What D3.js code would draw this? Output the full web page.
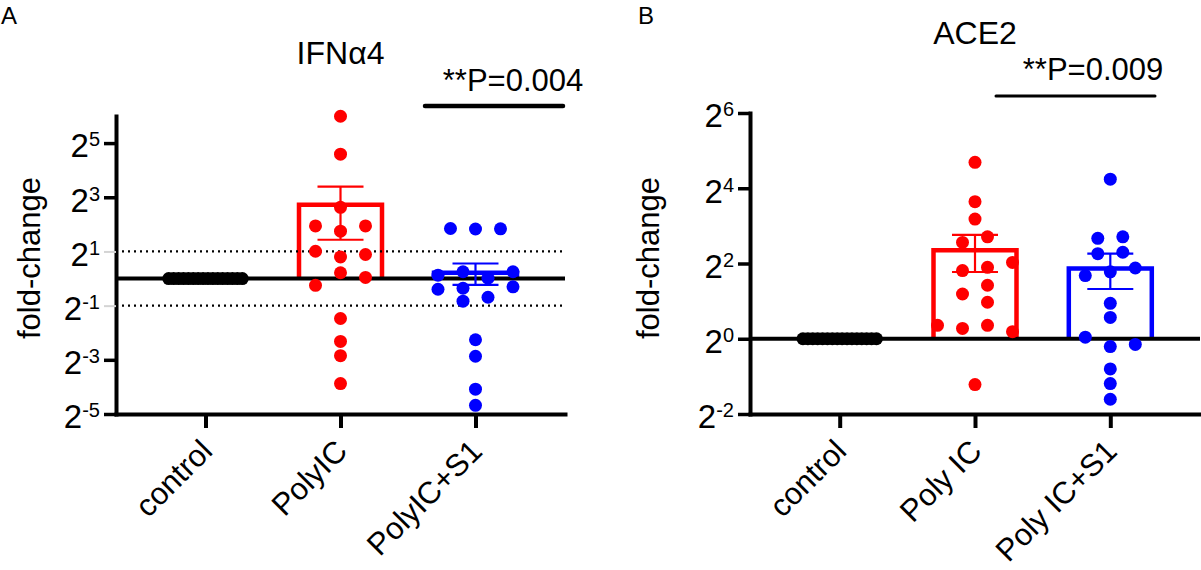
<!DOCTYPE html>
<html lang="en">
<head>
<meta charset="UTF-8">
<title>IFNa4 / ACE2 fold-change</title>
<style>
    body{ margin:0; background:#fff; }
    svg text{ font-family:"Liberation Sans", Arial, Helvetica, sans-serif; fill:#000; }
    .domain{ stroke:#000; stroke-width:4px; stroke-linecap:square; }
    .tick line{ stroke:#000; stroke-width:3.5px; }
</style>
<script src="https://d3js.org/d3.v7.min.js"></script>
</head>
<body>
<div class="canvas"></div>
<script>
// ---- panel A : IFNa4 ----
const catsA = ['control', 'PolyIC', 'PolyIC+S1'];
const ticksA = [2**5, 2**3, 2**1, 2**-1, 2**-3, 2**-5];
const ifnControl = [1,1,1,1,1,1,1,1,1,1,1,1,1,1,1,1];
const ifnPolyIC = [63.6, 24.1, 6.19, 3.84, 3.84, 3.36, 2.01, 1.85, 1.74, 1.16, 1.03, 0.84, 0.36, 0.20, 0.139, 0.068];
const ifnPolyICCol = [0, 0, 0, -2, 2, 0, -2, 2, 0, 0, 2, -2, 0, 0, 0, 0];
const ifnPolyICS1 = [3.60, 3.55, 3.57, 1.09, 1.19, 1.01, 1.19, 0.76, 0.78, 0.81, 0.56, 0.62, 0.209, 0.137, 0.059, 0.039];
const ifnPolyICS1Col = [-2, 0, 2, -3, -1, 1, 3, -3, -1, 3, -1, 1, 0, 0, 0, 0];
const ifnMean = [1, 6.6, 1.16];
const ifnSem = [0, 3.9, 0.31];

// ---- panel B : ACE2 ----
const catsB = ['control', 'Poly IC', 'Poly IC+S1'];
const ticksB = [2**6, 2**4, 2**2, 2**0, 2**-2];
const aceControl = [1,1,1,1,1,1,1,1,1,1,1,1,1,1,1,1];
const acePolyIC = [25.8, 12.5, 9.06, 5.90, 6.54, 4.08, 3.51, 3.73, 2.68, 2.28, 1.96, 1.28, 1.21, 1.28, 1.14, 0.43];
const acePolyICCol = [0, 0, 0, -1, 1, 3, -1, 1, 1, -1, 1, -3, -1, 1, 3, 0];
const acePolyICS1 = [18.9, 6.36, 6.54, 4.79, 4.92, 3.68, 3.20, 3.43, 1.92, 1.48, 1.03, 0.90, 0.865, 0.574, 0.438, 0.328];
const acePolyICS1Col = [0, -1, 1, -1, 1, 2, -2, 0, 0, 0, -2, 2, 0, 0, 0, 0];
const aceMean = [1, 5.1, 3.65];
const aceSem = [0, 1.68, 1.15];

const colors = ['#000000', '#ff0000', '#0000ff'];

const svg = d3.select('.canvas')
    .append('svg')
    .attr('width', 1201)
    .attr('height', 570);

function drawPanel(p){
    const g = svg.append('g');
    const x = d3.scalePoint().domain(p.cats).range(p.xRange).padding(0.663);
    const y = d3.scaleLog().base(2).domain(p.yDomain).range([414, p.yTop]);
    const col = d3.scaleLinear().domain([-1, 1]).range([-12.5, 12.5]);
    const barW = 83, capW = 46;

    const groups = p.cats.map((c, i) => ({
        name: c, values: p.values[i], cols: p.cols[i],
        mean: p.means[i], sem: p.sems[i], color: colors[i]
    }));
    const treated = groups.slice(1);

    // bars (open at the base)
    g.selectAll('path.bar')
        .data(treated)
        .enter()
        .append('path')
        .attr('d', d => {
            const x0 = x(d.name) - barW / 2, x1 = x(d.name) + barW / 2;
            return `M${x0},${y(1)}V${y(d.mean)}H${x1}V${y(1)}`;
        })
        .attr('fill', 'none')
        .attr('stroke', d => d.color)
        .attr('stroke-width', 4.5);

    // dotted reference lines
    (p.refLines || []).forEach(v => {
        g.append('line')
            .attr('x1', p.xRange[0]).attr('x2', p.xRange[1])
            .attr('y1', y(v)).attr('y2', y(v))
            .attr('stroke', '#000').attr('stroke-width', 2.2)
            .attr('stroke-dasharray', '2,4');
    });

    // baseline at 2^0
    g.append('line')
        .attr('x1', p.xRange[0]).attr('x2', p.xRange[1])
        .attr('y1', y(1)).attr('y2', y(1))
        .attr('stroke', '#000').attr('stroke-width', 4);

    // error bars
    const eb = g.selectAll('g.err').data(treated).enter().append('g')
        .attr('stroke', d => d.color).attr('stroke-width', 2.2);
    eb.append('line')
        .attr('x1', d => x(d.name)).attr('x2', d => x(d.name))
        .attr('y1', d => y(d.mean + d.sem)).attr('y2', d => y(d.mean - d.sem));
    eb.append('line')
        .attr('x1', d => x(d.name) - capW / 2).attr('x2', d => x(d.name) + capW / 2)
        .attr('y1', d => y(d.mean + d.sem)).attr('y2', d => y(d.mean + d.sem));
    eb.append('line')
        .attr('x1', d => x(d.name) - capW / 2).attr('x2', d => x(d.name) + capW / 2)
        .attr('y1', d => y(d.mean - d.sem)).attr('y2', d => y(d.mean - d.sem));

    // dots
    groups.forEach((grp, gi) => {
        const n = grp.values.length;
        g.selectAll(null)
            .data(grp.values)
            .enter()
            .append('circle')
            .attr('cx', (v, i) => gi === 0
                ? x(grp.name) + (i - (n - 1) / 2) * 4.9
                : x(grp.name) + col(grp.cols[i]))
            .attr('cy', v => y(v))
            .attr('r', 6.5)
            .attr('fill', grp.color);
    });

    // axes
    const yAxis = g.append('g')
        .attr('transform', `translate(${p.xRange[0]},0)`)
        .call(d3.axisLeft(y).tickValues(p.ticks).tickSize(12).tickPadding(4)
            .tickSizeOuter(0).tickFormat(() => ''));
    yAxis.selectAll('.tick text').each(function(d){
        const t = d3.select(this).text(null)
            .attr('dy', '0.42em')
            .style('font-size', '33px');
        t.append('tspan').text('2');
        t.append('tspan').attr('dy', -11).style('font-size', '20px')
            .text(Math.round(Math.log2(d)));
    });
    yAxis.selectAll('.tick line')
        .filter(d => (p.greyTicks || []).includes(d))
        .style('stroke', '#d4d4d4').style('stroke-width', '2px');

    const xAxis = g.append('g')
        .attr('transform', 'translate(0,414)')
        .call(d3.axisBottom(x).tickSize(14).tickSizeOuter(0));
    xAxis.selectAll('.tick line').style('stroke-width', '4px');
    xAxis.selectAll('.tick text')
        .attr('x', 0).attr('y', 0).attr('dy', 0)
        .attr('text-anchor', 'end')
        .attr('transform', 'translate(8,39) rotate(-45)')
        .style('font-size', '31px');

    // y label
    g.append('text')
        .attr('transform', `translate(${p.yLabelX},258) rotate(-90)`)
        .attr('text-anchor', 'middle')
        .style('font-size', '31px')
        .text('fold-change');

    // title
    g.append('text')
        .attr('x', x(p.cats[1])).attr('y', p.titleY)
        .attr('text-anchor', 'middle')
        .style('font-size', '32px')
        .text(p.title);

    // significance bar
    g.append('line')
        .attr('x1', p.sig.x1).attr('x2', p.sig.x2)
        .attr('y1', p.sig.y).attr('y2', p.sig.y)
        .attr('stroke', '#000').attr('stroke-width', p.sig.w)
        .attr('stroke-linecap', 'round');
    g.append('text')
        .attr('x', p.sig.tx).attr('y', p.sig.ty)
        .attr('text-anchor', 'middle')
        .style('font-size', '31px')
        .text(p.sig.label);

    // panel letter
    g.append('text')
        .attr('x', p.letterX).attr('y', 24)
        .style('font-size', '24px')
        .text(p.letter);
}

drawPanel({
    cats: catsA, xRange: [116, 565], yDomain: [2**-5, 2**6], yTop: 116,
    ticks: ticksA, greyTicks: [2, 0.5], refLines: [2, 0.5],
    values: [ifnControl, ifnPolyIC, ifnPolyICS1],
    cols: [null, ifnPolyICCol, ifnPolyICS1Col],
    means: ifnMean, sems: ifnSem,
    yLabelX: 40, title: 'IFNα4', titleY: 64,
    sig: {x1: 425, x2: 563, y: 106, w: 4.5, tx: 513, ty: 91, label: '**P=0.004'},
    letter: 'A', letterX: 1
});

drawPanel({
    cats: catsB, xRange: [750, 1200], yDomain: [2**-2, 2**6], yTop: 113,
    ticks: ticksB,
    values: [aceControl, acePolyIC, acePolyICS1],
    cols: [null, acePolyICCol, acePolyICS1Col],
    means: aceMean, sems: aceSem,
    yLabelX: 659, title: 'ACE2', titleY: 44,
    sig: {x1: 996, x2: 1155, y: 96, w: 3, tx: 1093, ty: 80, label: '**P=0.009'},
    letter: 'B', letterX: 638
});
</script>
</body>
</html>
